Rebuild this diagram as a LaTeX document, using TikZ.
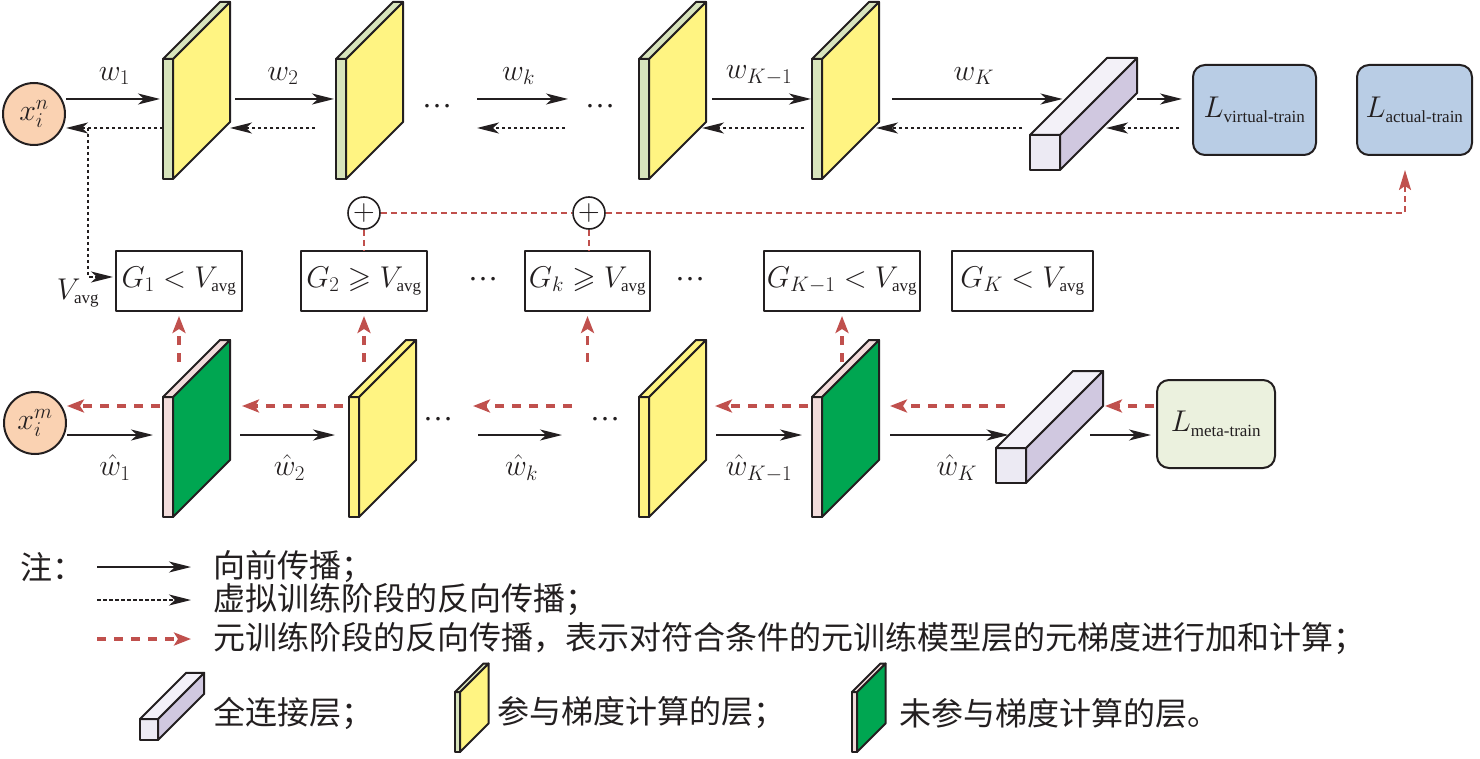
\RequirePackage{fix-cm}
\documentclass[tikz,border=0pt]{standalone}
\usepackage{amsmath,amssymb}
\usepackage{fontspec}
\setmainfont{Liberation Serif}
\newfontfamily\cjk{Noto Sans CJK SC}
\usetikzlibrary{arrows.meta, positioning}

\definecolor{peach}{RGB}{250,210,178}
\definecolor{lyellow}{RGB}{255,244,130}
\definecolor{lgreen}{RGB}{216,228,188}
\definecolor{dgreen}{RGB}{0,166,81}
\definecolor{lpink}{RGB}{242,220,219}
\definecolor{fcfront}{RGB}{236,234,243}
\definecolor{fcside}{RGB}{208,200,224}
\definecolor{fctop}{RGB}{243,241,248}
\definecolor{lblue}{RGB}{185,205,229}
\definecolor{lolive}{RGB}{235,241,222}
\definecolor{rline}{RGB}{192,80,77}
\definecolor{ink}{RGB}{35,31,32}

\newcommand\lsub[1]{\text{\fontsize{17}{17}\selectfont #1}}

\tikzset{
  pics/layer/.style 2 args={code={
    \draw[shp, fill=#1] (0,0) rectangle (10,120);
    \draw[shp, fill=#2] (10,0) -- (67,-57) -- (67,63) -- (10,120) -- cycle;
    \draw[shp, fill=#1] (0,0) -- (57,-57) -- (67,-57) -- (10,0) -- cycle;
    \coordinate (-l) at (0,60);
    \coordinate (-r) at (67,3);
  }},
  pics/fc/.style={code={
    \draw[shp, fill=fcfront] (0,0) rectangle (30,35);
    \draw[shp, fill=fcside] (30,0) -- (107,-77) -- (107,-42) -- (30,35) -- cycle;
    \draw[shp, fill=fctop] (0,0) -- (77,-77) -- (107,-77) -- (30,0) -- cycle;
    \coordinate (-tl) at (0,0);
    \coordinate (-d) at (38.5,-38.5);
    \coordinate (-r) at (107,-60);
  }}
}

\begin{document}
\begin{tikzpicture}[x=1pt, y=-1pt,
  every node/.style={font=\fontsize{30}{36}\selectfont, text=ink},
  shp/.style={draw=ink, line width=2pt, line join=round},
  fwd/.style={draw=ink, line width=1.6pt, -{Stealth[length=22pt,width=11pt,inset=6pt]}},
  bwd/.style={fwd, dash pattern=on 3.5pt off 2.5pt},
  rbwd/.style={draw=rline, line width=3.5pt, dash pattern=on 9pt off 8pt, -{Stealth[length=17pt,width=13pt,inset=4pt]}},
  rsum/.style={draw=rline, line width=2pt, dash pattern=on 6pt off 4pt},
  inp/.style={circle, shp, fill=peach, minimum size=62pt, inner sep=0pt},
  gbox/.style={shp, minimum height=60pt, inner sep=3pt},
  lbox/.style={shp, rounded corners=12pt, minimum height=90pt, inner sep=2pt},
  plus/.style={circle, shp, line width=1.6pt, minimum size=32pt, inner sep=0pt},
  note/.style={font=\cjk\fontsize{32}{38}\selectfont, anchor=west, inner sep=0pt}]
    \useasboundingbox (0,0) rectangle (1480,759);
    \coordinate (fT) at (0,99);
    \coordinate (bT) at (0,128);
    \coordinate (fB) at (0,435);
    \coordinate (bB) at (0,406);
    \coordinate (uB) at (0,362);

    % virtual-train
    \node[inp] (xn) at (34,114) {$x_i^n$};
    \pic (tl1) at (163,59) {layer={lgreen}{lyellow}};
    \pic (tl2) at (336,59) {layer={lgreen}{lyellow}};
    \pic (tl3) at (639,59) {layer={lgreen}{lyellow}};
    \pic (tl4) at (812,59) {layer={lgreen}{lyellow}};
    \pic (fcT) at (1030,135) {fc};
    \node (dT1) at (437,106) {…};
    \node (dT2) at (600,106) {…};
    \node[lbox, fill=lblue, minimum width=123pt] (Lv) at (1254.5,110) {$L_{\lsub{virtual-train}}$};
    \node[lbox, fill=lblue, minimum width=115pt] (La) at (1414.5,110) {$L_{\lsub{actual-train}}$};
    \draw[fwd, shorten >=3pt] (xn.east |- fT) -- (tl1-l |- fT) node[midway, above=10pt] {$w_1$};
    \draw[fwd, shorten <=5pt, shorten >=2pt] (tl1-r |- fT) -- (tl2-l |- fT) node[midway, above=10pt] {$w_2$};
    \draw[fwd, shorten <=40pt, shorten >=32pt] (dT1 |- fT) -- (dT2 |- fT) node[midway, above=10pt] {$w_k$};
    \draw[fwd, shorten <=6pt, shorten >=1pt] (tl3-r |- fT) -- (tl4-l |- fT) node[midway, above=10pt] {$w_{K-1}$};
    \draw[fwd, shorten <=13pt, shorten >=6pt] (tl4-r |- fT) -- (fcT-d |- fT) node[midway, above=10pt] {$w_K$};
    \draw[fwd, shorten >=10pt] (fcT-r |- fT) -- (Lv.west |- fT);
    \draw[bwd] (tl1-l |- bT) -- (xn.east |- bT);
    \draw[bwd, shorten <=21pt] (tl2-l |- bT) -- (tl1-r |- bT);
    \draw[bwd, shorten <=35pt, shorten >=40pt] (dT2 |- bT) -- (dT1 |- bT);
    \draw[bwd, shorten <=8pt, shorten >=-4pt] (tl4-l |- bT) -- (tl3-r |- bT);
    \draw[bwd, shorten <=8pt, shorten >=-3pt] (fcT-tl |- bT) -- (tl4-r |- bT);
    \draw[bwd, shorten <=13pt, shorten >=-31pt] (Lv.west |- bT) -- (fcT-r |- bT);

    % gradient check
    \node[gbox, minimum width=126pt] (G1) at (179,281) {$G_1<V_{\lsub{avg}}$};
    \node[gbox, minimum width=126pt] (G2) at (364,281) {$G_2\geqslant V_{\lsub{avg}}$};
    \node[gbox, minimum width=125pt] (Gk) at (587.5,281) {$G_k\geqslant V_{\lsub{avg}}$};
    \node[gbox, minimum width=144pt] (GK1) at (842,281) {$G_{K-1}<V_{\lsub{avg}}$};
    \node[gbox, minimum width=141pt] (GK) at (1022.5,281) {$G_K<V_{\lsub{avg}}$};
    \node (dM1) at (483,279) {…};
    \node (dM2) at (690,279) {…};
    \node (vavg) at (78,293) {$V_{\lsub{avg}}$};
    \coordinate (br) at (88,128);
    \draw[bwd, shorten >=2pt] (br) |- ([yshift=4pt]G1.west);
    \node[plus] (p1) at (364,213) {$+$};
    \node[plus] (p2) at (589,213) {$+$};
    \coordinate (turn) at (1405,213);
    \draw[rsum] (p1) -- (G2);
    \draw[rsum] (p2) -- (p2 |- Gk.north);
    \draw[rsum] (p1) -- (p2);
    \draw[rsum, -{Stealth[length=20pt,width=12pt,inset=4pt]}, shorten >=14pt] (p2) -- (turn) -- (turn |- La.south);

    % meta-train
    \node[inp] (xm) at (35,423) {$x_i^m$};
    \pic (bl1) at (163,397) {layer={lpink}{dgreen}};
    \pic (bl2) at (349,397) {layer={lyellow}{lyellow}};
    \pic (bl3) at (639,397) {layer={lyellow}{lyellow}};
    \pic (bl4) at (812,397) {layer={lpink}{dgreen}};
    \pic (fcB) at (996,448) {fc};
    \node (dB1) at (438,419) {…};
    \node (dB2) at (605,419) {…};
    \node[lbox, fill=lolive, minimum width=118pt, minimum height=88pt] (Lm) at (1216,424) {$L_{\lsub{meta-train}}$};
    \draw[fwd, shorten >=10pt] (xm.east |- fB) -- (bl1-l |- fB) node[midway, below=16pt] {$\hat{w}_1$};
    \draw[fwd, shorten <=10pt, shorten >=14pt] (bl1-r |- fB) -- (bl2-l |- fB) node[midway, below=16pt] {$\hat{w}_2$};
    \draw[fwd, shorten <=40pt, shorten >=43pt] (dB1 |- fB) -- (dB2 |- fB) node[midway, below=16pt] {$\hat{w}_k$};
    \draw[fwd, shorten <=10pt, shorten >=10pt] (bl3-r |- fB) -- (bl4-l |- fB) node[midway, below=16pt] {$\hat{w}_{K-1}$};
    \draw[fwd, shorten <=11pt, shorten >=26pt] (bl4-r |- fB) -- (fcB-d |- fB) node[midway, below=16pt] {$\hat{w}_K$};
    \draw[fwd, shorten <=-13pt, shorten >=5pt] (fcB-r |- fB) -- (Lm.west |- fB);
    \draw[rbwd, shorten <=3pt] (bl1-l |- bB) -- (xm.east |- bB);
    \draw[rbwd, shorten <=6pt, shorten >=12pt] (bl2-l |- bB) -- (bl1-r |- bB);
    \draw[rbwd, shorten <=33pt, shorten >=35pt] (dB2 |- bB) -- (dB1 |- bB);
    \draw[rbwd, shorten <=4pt, shorten >=9pt] (bl4-l |- bB) -- (bl3-r |- bB);
    \draw[rbwd, shorten <=30pt, shorten >=11pt] (fcB-d |- bB) -- (bl4-r |- bB);
    \draw[rbwd, shorten <=2pt, shorten >=2pt] (Lm.west |- bB) -- (fcB-r |- bB);
    \draw[rbwd, shorten >=4pt] (G1.south |- uB) -- (G1.south);
    \draw[rbwd, shorten >=4pt] (G2.south |- uB) -- (G2.south);
    \draw[rbwd, shorten >=4pt] (Gk.south |- uB) -- (Gk.south);
    \draw[rbwd, shorten >=4pt] (GK1.south |- uB) -- (GK1.south);

    % legend
    \node[note] (zhu) at (20,567) {注：};
    \node[note] (t1) at (213,567) {向前传播；};
    \node[note] (t2) at (213,600) {虚拟训练阶段的反向传播；};
    \node[note] (t3) at (213,639) {元训练阶段的反向传播，表示对符合条件的元训练模型层的元梯度进行加和计算；};
    \coordinate (k1) at (97,567);
    \coordinate (k2) at (97,600);
    \coordinate (k3) at (97,639);
    \draw[fwd, shorten >=22pt] (k1) -- (t1.west);
    \draw[bwd, shorten >=22pt] (k2) -- (t2.west);
    \draw[rbwd, shorten >=22pt] (k3) -- (t3.west);
    \pic[scale=0.6] (fcI) at (140,719) {fc};
    \node[note] (t4) at (213,713) {全连接层；};
    \pic[scale=0.5] (yI) at (455,692) {layer={lgreen}{lyellow}};
    \node[note] (t5) at (497,713) {参与梯度计算的层；};
    \pic[scale=0.5] (gI) at (852,692) {layer={lpink}{dgreen}};
    \node[note] (t6) at (899,713) {未参与梯度计算的层。};
\end{tikzpicture}
\end{document}
